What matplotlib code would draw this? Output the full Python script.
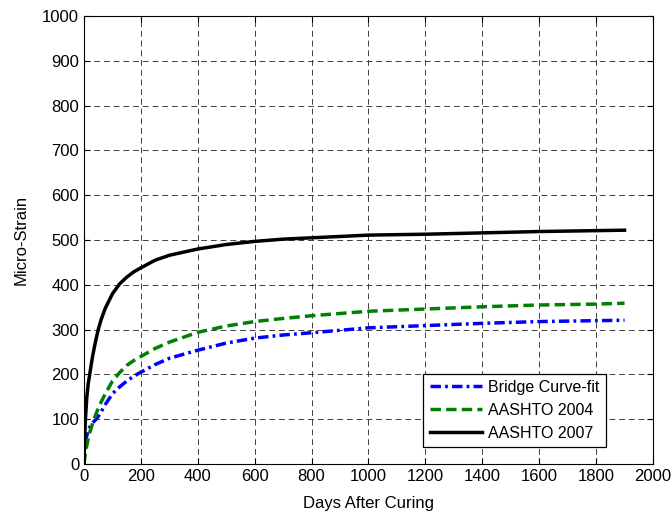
import matplotlib.pyplot as plt

# days after curing and micro-strain
days = [0, 2, 5, 10, 15, 20, 30, 40, 50, 60, 75, 100, 125, 150, 175, 200, 250, 300, 400,
        500, 600, 700, 800, 1000, 1200, 1400, 1600, 1800, 1900]
bridge_fit = [0, 28, 48, 64, 74, 82, 92, 98, 106, 116, 133, 157, 172, 185, 196, 205, 222, 236, 254,
              270, 281, 288, 293, 304, 309, 314, 318, 320, 321]
aashto_2004 = [0, 10, 25, 42, 57, 70, 90, 108, 124, 138, 157, 185, 204, 220, 231, 240, 258, 272, 294,
               308, 318, 325, 331, 341, 346, 351, 355, 357, 359]
aashto_2007 = [0, 55, 100, 150, 180, 200, 240, 272, 300, 322, 348, 380, 402, 417, 429, 438, 455, 466, 480,
               490, 497, 502, 505, 511, 513, 516, 519, 521, 522]

plt.rcParams['font.family'] = ['Liberation Sans', 'DejaVu Sans']

fig = plt.figure(figsize=(6.72, 5.16), dpi=100)
ax = fig.add_axes([0.125, 0.1008, 0.8467, 0.868])

ax.plot(days, bridge_fit, color='#0000ff', lw=2.5, dashes=(3, 1.2, 0.8, 1.2),
        label='Bridge Curve-fit')
ax.plot(days, aashto_2004, color='#008000', lw=2.5, dashes=(3, 1.5),
        label='AASHTO 2004')
ax.plot(days, aashto_2007, color='black', lw=2.5, label='AASHTO 2007')

ax.set_xlim(0, 2000)
ax.set_ylim(0, 1000)
ax.set_xticks(range(0, 2001, 200))
ax.set_yticks(range(0, 1001, 100))

# matlab style grid and box
ax.grid(True, color='0.25', lw=0.7, dashes=(6, 4))
ax.tick_params(direction='in', top=True, right=True, labelsize=12, length=4)
for s in ax.spines.values():
    s.set_linewidth(0.8)

ax.set_xlabel('Days After Curing', fontsize=12, labelpad=9)
ax.set_ylabel('Micro-Strain', fontsize=12, labelpad=10)

leg = ax.legend(loc='lower right', bbox_to_anchor=(0.917, 0.037), borderaxespad=0,
                fontsize=11.5, fancybox=False, edgecolor='black', framealpha=1,
                handlelength=3.3, handletextpad=0.35, labelspacing=0.5)
leg.get_frame().set_linewidth(0.9)

fig.savefig('out.png', dpi=100)
